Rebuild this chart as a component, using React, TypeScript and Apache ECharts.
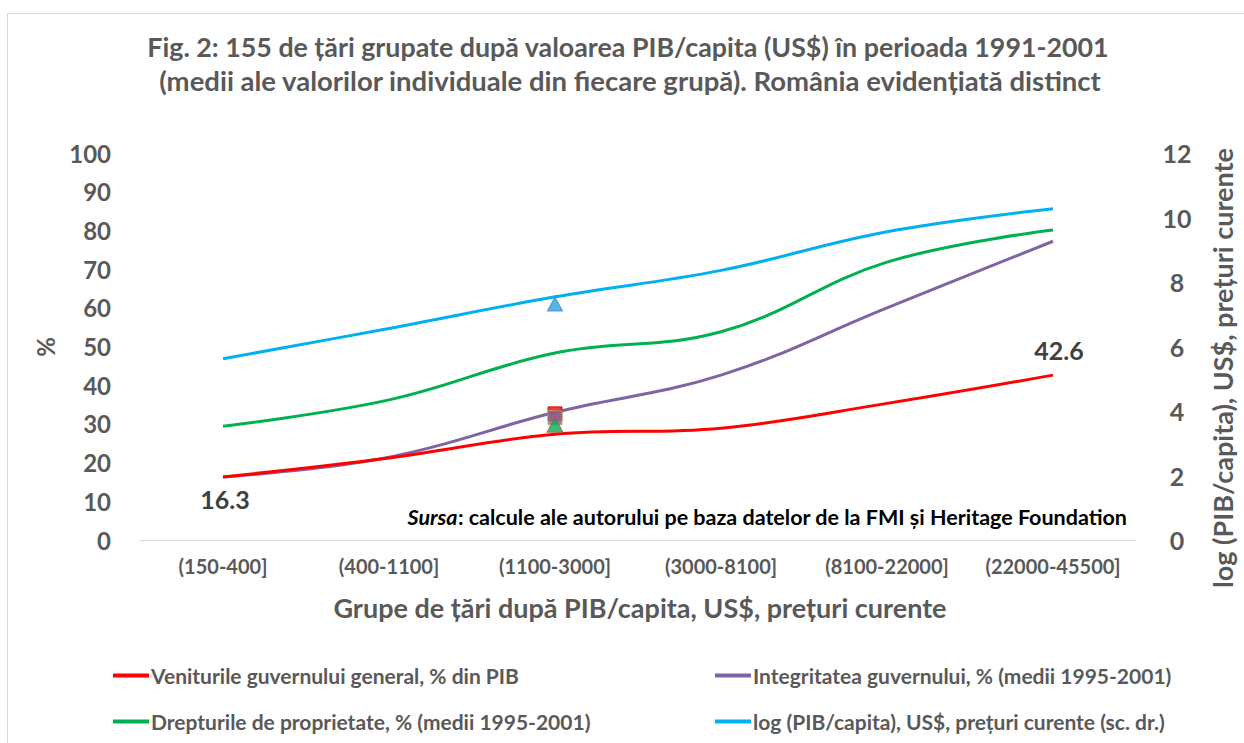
import React, { useEffect, useRef } from "react";
import * as echarts from "echarts";

const categories = ["(150-400]", "(400-1100]", "(1100-3000]", "(3000-8100]", "(8100-22000]", "(22000-45500]"];
const venituri = [16.3, 21.2, 27.3, 28.9, 35.3, 42.6];
const integritate = [16.3, 21.4, 33.0, 42.6, 60.0, 77.2];
const drepturi = [29.4, 36.2, 48.3, 53.8, 71.8, 80.1];
const logPib = [5.62, 6.56, 7.54, 8.36, 9.56, 10.27];
const romania = { venituri: 32.6, integritate: 31.6, drepturi: 29.8, logPib: 7.32 };
const romaniaIndex = 2;
const leftTicks = { min: 0, max: 100, interval: 10 };
const rightTicks = { min: 0, max: 12, interval: 2 };

const names = {
  venituri: "Veniturile guvernului general, % din PIB",
  integritate: "Integritatea guvernului, % (medii 1995-2001)",
  drepturi: "Drepturile de proprietate, % (medii 1995-2001)",
  logPib: "log (PIB/capita), US$, prețuri curente (sc. dr.)",
};

const FONT = "Lato";
const GREY = "#595959";

export default function App() {
  const ref = useRef<HTMLDivElement>(null);
  useEffect(() => {
    const chart = echarts.init(ref.current!, null, { renderer: "svg" });
    const lineStyle = (c: string) => ({ color: c, width: 3 });
    const pointAt = (v: number) => categories.map((_, i) => (i === romaniaIndex ? v : null));
    const legendText = { fontFamily: FONT, fontSize: 21, fontWeight: "bold", color: GREY, padding: [0, 0, 0, -3] };
    chart.setOption({
      animation: false,
      backgroundColor: "#ffffff",
      textStyle: { fontFamily: FONT },
      grid: { left: 140, right: 108, top: 153, bottom: 203, containLabel: false },
      xAxis: {
        type: "category",
        data: categories,
        boundaryGap: true,
        axisLine: { show: true, lineStyle: { color: "#d9d9d9", width: 1 } },
        axisTick: { show: false },
        axisLabel: { interval: 0, fontFamily: FONT, fontSize: 20, fontWeight: "bold", color: GREY, margin: 16 },
        splitLine: { show: false },
      },
      yAxis: [
        {
          type: "value",
          ...leftTicks,
          axisLine: { show: false },
          axisTick: { show: false },
          splitLine: { show: false },
          axisLabel: { fontFamily: FONT, fontSize: 24, fontWeight: "bold", color: GREY, margin: 29 },
        },
        {
          type: "value",
          position: "right",
          ...rightTicks,
          axisLine: { show: false },
          axisTick: { show: false },
          splitLine: { show: false },
          axisLabel: { fontFamily: FONT, fontSize: 25, fontWeight: "bold", color: GREY, margin: 41, align: "center" },
        },
      ],
      legend: [
        {
          orient: "vertical",
          left: 108,
          top: 660,
          itemGap: 25,
          itemWidth: 36,
          itemHeight: 4,
          icon: "rect",
          textStyle: legendText,
          data: [names.venituri, names.drepturi],
        },
        {
          orient: "vertical",
          left: 710,
          top: 660,
          itemGap: 25,
          itemWidth: 36,
          itemHeight: 4,
          icon: "rect",
          textStyle: legendText,
          data: [names.integritate, names.logPib],
        },
      ],
      series: [
        {
          name: names.logPib,
          type: "line",
          yAxisIndex: 1,
          data: logPib,
          smooth: 0.4,
          symbol: "none",
          lineStyle: lineStyle("#00b0f0"),
          itemStyle: { color: "#00b0f0" },
        },
        {
          name: names.drepturi,
          type: "line",
          data: drepturi,
          smooth: 0.4,
          symbol: "none",
          lineStyle: lineStyle("#00b050"),
          itemStyle: { color: "#00b050" },
        },
        {
          name: names.integritate,
          type: "line",
          data: integritate,
          smooth: 0.4,
          symbol: "none",
          lineStyle: lineStyle("#8064a2"),
          itemStyle: { color: "#8064a2" },
        },
        {
          name: names.venituri,
          type: "line",
          data: venituri.map((v, i) => {
            if (i === 0)
              return {
                value: v,
                symbol: "circle",
                symbolSize: 4,
                itemStyle: { opacity: 0 },
                label: { show: true, position: "bottom", distance: 8, offset: [2, 0] },
              };
            if (i === venituri.length - 1)
              return {
                value: v,
                symbol: "circle",
                symbolSize: 4,
                itemStyle: { opacity: 0 },
                label: { show: true, position: "top", distance: 11, offset: [6, 0] },
              };
            return { value: v, symbol: "none" };
          }),
          smooth: 0.4,
          symbol: "circle",
          symbolSize: 4,
          showSymbol: true,
          lineStyle: lineStyle("#ff0000"),
          itemStyle: { color: "#ff0000" },
          label: {
            fontFamily: FONT,
            fontSize: 25,
            fontWeight: "bold",
            color: "#404040",
            opacity: 1,
          },
        },
        {
          name: "România venituri",
          type: "scatter",
          data: pointAt(romania.venituri),
          symbol: "rect",
          symbolSize: 14,
          itemStyle: { color: "#ff0000", borderColor: "#c00000", borderWidth: 1 },
          z: 5,
        },
        {
          name: "România integritate",
          type: "scatter",
          data: pointAt(romania.integritate),
          symbol: "rect",
          symbolSize: 14,
          itemStyle: { color: "#7a6aa8", borderColor: "#9bbb59", borderWidth: 1 },
          z: 6,
        },
        {
          name: "România drepturi",
          type: "scatter",
          data: pointAt(romania.drepturi),
          symbol: "triangle",
          symbolSize: [16, 15],
          itemStyle: { color: "#00b050", borderColor: "#c0504d", borderWidth: 1 },
          z: 7,
        },
        {
          name: "România log PIB",
          type: "scatter",
          yAxisIndex: 1,
          data: pointAt(romania.logPib),
          symbol: "triangle",
          symbolSize: [15, 14],
          itemStyle: { color: "#29a3e0", borderColor: "#4f81bd", borderWidth: 1 },
          z: 7,
        },
      ],
      graphic: [
        {
          type: "rect",
          shape: { x: 7.5, y: 13.5, width: 1400, height: 900 },
          style: { fill: "none", stroke: "#d9d9d9", lineWidth: 1 },
          silent: true,
          z: -10,
        },
        {
          type: "text",
          x: 628,
          y: 47,
          style: {
            text: "Fig. 2: 155 de țări grupate după valoarea PIB/capita (US$) în perioada 1991-2001",
            fontFamily: FONT,
            fontSize: 26.8,
            fontWeight: "bold",
            fill: GREY,
            align: "center",
            verticalAlign: "middle",
          },
        },
        {
          type: "text",
          x: 630,
          y: 80,
          style: {
            text: "(medii ale valorilor individuale din fiecare grupă). România evidențiată distinct",
            fontFamily: FONT,
            fontSize: 27.5,
            fontWeight: "bold",
            fill: GREY,
            align: "center",
            verticalAlign: "middle",
          },
        },
        {
          type: "text",
          x: 45,
          y: 347,
          rotation: Math.PI / 2,
          style: {
            text: "%",
            fontFamily: FONT,
            fontSize: 24,
            fontWeight: "bold",
            fill: GREY,
            align: "center",
            verticalAlign: "middle",
          },
        },
        {
          type: "text",
          x: 1222,
          y: 368,
          rotation: Math.PI / 2,
          style: {
            text: "log (PIB/capita), US$, prețuri curente",
            fontFamily: FONT,
            fontSize: 27,
            fontWeight: "bold",
            fill: GREY,
            align: "center",
            verticalAlign: "middle",
          },
        },
        {
          type: "text",
          x: 640,
          y: 607,
          style: {
            text: "Grupe de țări după PIB/capita, US$, prețuri curente",
            fontFamily: FONT,
            fontSize: 27,
            fontWeight: "bold",
            fill: GREY,
            align: "center",
            verticalAlign: "middle",
          },
        },
        {
          type: "text",
          x: 1127,
          y: 517,
          style: {
            text: "{i|Sursa}{b|: calcule ale autorului pe baza datelor de la FMI și Heritage Foundation}",
            align: "right",
            verticalAlign: "middle",
            rich: {
              i: { fontFamily: FONT, fontSize: 21.5, fontWeight: "bold", fontStyle: "italic", fill: "#000000" },
              b: { fontFamily: FONT, fontSize: 21.5, fontWeight: "bold", fill: "#000000" },
            },
          },
        },
      ],
    });
    return () => chart.dispose();
  }, []);
  return (
    <div
      ref={ref}
      style={{ position: "absolute", left: 0, top: 0, width: 1244, height: 743 }}
    />
  );
}
